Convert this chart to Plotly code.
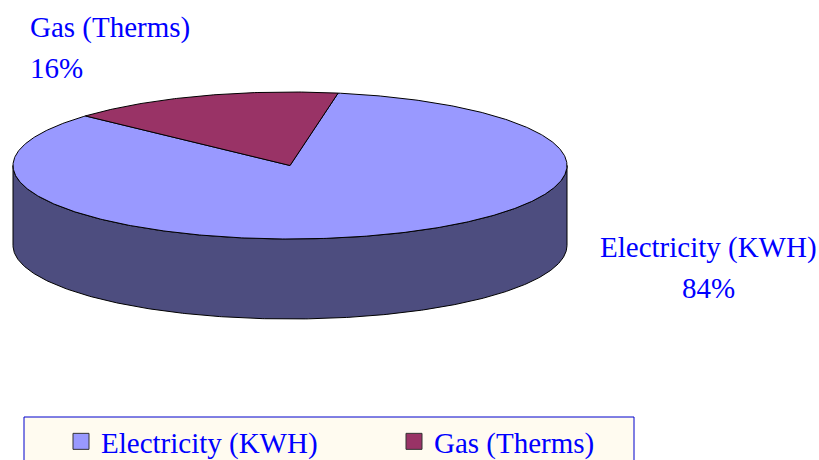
import numpy as np
import plotly.graph_objects as go

categories = ["Electricity (KWH)", "Gas (Therms)"]
values = [84, 16]
colors = ["#9999FF", "#993366"]
side_color = "#4D4D7F"
FONT = "Liberation Serif"
BLUE = "#0000FF"
FS = 29
W, H = 819, 468  # the extra height leaves room for the legend below the 460px window

# pie geometry in chart pixels
CX, CY, RX, RY, DEPTH = 290, 165.5, 277, 73.5, 80
START_DEG = 80.0

def arc(a0, a1):
    n = max(int(abs(a1 - a0)) * 2, 2)
    t = np.radians(np.linspace(a0, a1, n))
    return CX + RX * np.cos(t), CY - RY * np.sin(t)

total = sum(values)
fig = go.Figure()

# extruded side (lower half of the ellipse)
sx, sy = arc(180, 360)
fig.add_trace(go.Scatter(
    x=np.r_[sx, sx[::-1], sx[0]], y=np.r_[sy, sy[::-1] + DEPTH, sy[0]],
    mode="lines", fill="toself", fillcolor=side_color,
    line=dict(color="#000000", width=1), showlegend=False, hoverinfo="skip"))

# top slices, clockwise from the start angle
a = START_DEG
for name, v, c in zip(categories, values, colors):
    b = a - 360 * v / total
    x, y = arc(a, b)
    fig.add_trace(go.Scatter(
        x=np.r_[CX, x, CX], y=np.r_[CY, y, CY],
        mode="lines", fill="toself", fillcolor=c,
        line=dict(color="#000000", width=1), showlegend=False, name=name,
        hoverinfo="name"))
    a = b

# legend box
fig.add_shape(type="rect", xref="x", yref="y", x0=24, x1=634, y0=417, y1=480,
              fillcolor="#FFFBF0", line=dict(color="#0000CC", width=1), layer="below")

# legend entries
for name, c in zip(categories, colors):
    fig.add_trace(go.Scatter(
        x=[None], y=[None], mode="markers", name=name,
        marker=dict(symbol="square", size=17, color=c, line=dict(color="#333333", width=1))))

# data labels
pct = [f"{round(100 * v / total)}%" for v in values]
labels = [
    (708, 247, "center", categories[0]),
    (708, 288, "center", pct[0]),
    (28, 27, "left", categories[1]),
    (28, 68, "left", pct[1]),
]
for x, y, anchor, text in labels:
    fig.add_annotation(x=x, y=y, xref="x", yref="y", text=text, showarrow=False,
                       xanchor=anchor, yanchor="middle",
                       font=dict(family=FONT, size=FS, color=BLUE))

fig.update_layout(
    width=W, height=H, autosize=False,
    margin=dict(l=0, r=0, t=0, b=0),
    paper_bgcolor="#FFFFFF", plot_bgcolor="#FFFFFF",
    xaxis=dict(range=[0, W], visible=False, fixedrange=True),
    yaxis=dict(range=[H, 0], visible=False, fixedrange=True),
    showlegend=True,
    legend=dict(
        orientation="h",
        x=61 / W, y=1 - 416 / H, xanchor="left", yanchor="top",
        bgcolor="rgba(0,0,0,0)", borderwidth=0,
        font=dict(family=FONT, size=FS, color=BLUE),
        entrywidth=288, entrywidthmode="pixels", itemwidth=30, itemsizing="trace"),
)
fig.write_html("out.html", default_width=f"{W}px", default_height=f"{H}px",
               config={"displayModeBar": False},
               post_script="document.body.style.margin='0';")
